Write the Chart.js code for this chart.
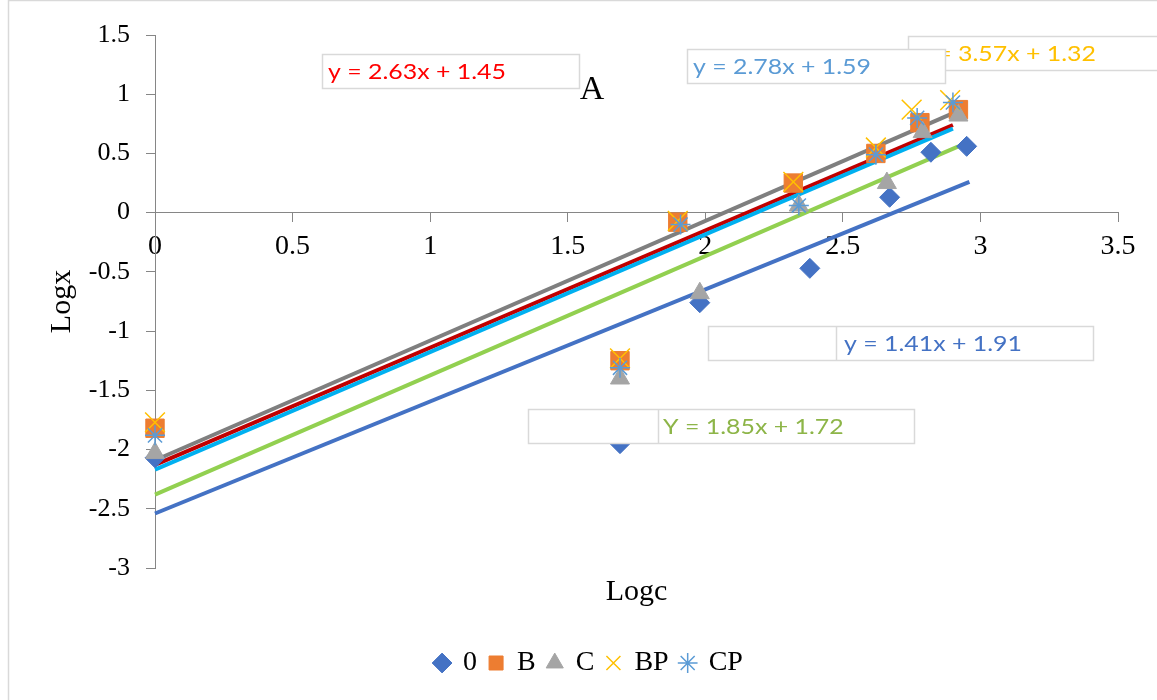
<!DOCTYPE html>
<html>
<head>
<meta charset="utf-8">
<script src="https://cdn.jsdelivr.net/npm/chart.js@4.4.0/dist/chart.umd.min.js"></script>
<style>
  html, body { margin: 0; padding: 0; background: #ffffff; }
  canvas { display: block; }
</style>
</head>
<body>
<canvas id="grafico" width="1157" height="700"></canvas>
<script>
// nomes das séries (legenda)
const series = ['0', 'B', 'C', 'BP', 'CP'];

// Logc (x) e Logx (y) de cada série
const logc0  = [0, 1.69, 1.98, 2.38, 2.67, 2.82, 2.95];
const logx0  = [-2.07, -1.95, -0.76, -0.47, 0.13, 0.51, 0.56];
const logcB  = [0, 1.69, 1.90, 2.32, 2.62, 2.78, 2.92];
const logxB  = [-1.82, -1.25, -0.08, 0.25, 0.50, 0.76, 0.87];
const logcC  = [0, 1.69, 1.98, 2.34, 2.66, 2.79, 2.92];
const logxC  = [-2.03, -1.40, -0.68, 0.06, 0.25, 0.68, 0.82];
const logcBP = [0, 1.69, 1.90, 2.32, 2.62, 2.75, 2.89];
const logxBP = [-1.77, -1.23, -0.07, 0.26, 0.55, 0.87, 0.95];
const logcCP = [0, 1.69, 1.91, 2.34, 2.62, 2.77, 2.90];
const logxCP = [-1.88, -1.31, -0.10, 0.06, 0.49, 0.80, 0.93];

// linhas de tendência: início em x = 0, fim em fimTendenciaX
const inicioTendencia = [-2.54, -2.38, -2.17, -2.13, -2.09];
const fimTendenciaX   = [2.96, 2.92, 2.90, 2.90, 2.92];
const fimTendencia    = [0.26, 0.56, 0.71, 0.74, 0.86];

// equações mostradas nas caixas
const equacoes = ['y = 3.57x + 1.32', 'y = 2.63x + 1.45', 'y = 2.78x + 1.59', 'y = 1.41x + 1.91', 'Y = 1.85x + 1.72'];

const cores = {
    azul: '#4472C4',
    laranja: '#ED7D31',
    cinza: '#A5A5A5',
    amarelo: '#FFC000',
    azulClaro: '#5B9BD5',
    cinzaEscuro: '#7F7F7F',
    vermelhoEscuro: '#C00000',
    ciano: '#00B0F0',
    verde: '#92D050',
    eixo: '#868686'
};

const fonteSerif = "'Liberation Serif', 'Times New Roman', serif";
Chart.defaults.font.family = fonteSerif;
Chart.defaults.color = '#000000';

const pontos = (xs, ys) => xs.map((x, i) => ({ x: x, y: ys[i] }));
const rotulo = valor => String(Math.round(valor * 10) / 10);

const estilosMarcadores = [
    { pointStyle: 'rectRot', pointRadius: 10, backgroundColor: cores.azul, borderColor: cores.azul, borderWidth: 1 },
    { pointStyle: 'rect', pointRadius: 13, backgroundColor: cores.laranja, borderColor: cores.laranja, borderWidth: 1 },
    { pointStyle: 'triangle', pointRadius: 11, backgroundColor: cores.cinza, borderColor: cores.cinza, borderWidth: 1 },
    { pointStyle: 'crossRot', pointRadius: 14, backgroundColor: cores.amarelo, borderColor: cores.amarelo, borderWidth: 1.5 },
    { pointStyle: 'star', pointRadius: 10, backgroundColor: cores.azulClaro, borderColor: cores.azulClaro, borderWidth: 1.5 }
];
const dadosSeries = [pontos(logc0, logx0), pontos(logcB, logxB), pontos(logcC, logxC), pontos(logcBP, logxBP), pontos(logcCP, logxCP)];

const coresTendencia = [cores.azul, cores.verde, cores.ciano, cores.vermelhoEscuro, cores.cinzaEscuro];

const datasets = [];
series.forEach((nome, i) => {
    datasets.push({
        label: nome,
        data: dadosSeries[i],
        ...estilosMarcadores[i],
        pointHoverRadius: estilosMarcadores[i].pointRadius,
        showLine: false,
        clip: false,
        order: 5 - i
    });
});
coresTendencia.forEach((cor, i) => {
    datasets.push({
        label: 'tendencia' + i,
        data: [{ x: 0, y: inicioTendencia[i] }, { x: fimTendenciaX[i], y: fimTendencia[i] }],
        showLine: true,
        borderColor: cor,
        borderWidth: 4,
        pointRadius: 0,
        clip: false,
        order: 10
    });
});

// caixas das equações, títulos dos eixos e moldura
const caixas = [
    { x: 908, y: 36, w: 270, h: 34, tx: 918, cor: cores.amarelo },
    { x: 322, y: 54, w: 257, h: 34, tx: 328, cor: '#FF0000' },
    { x: 687, y: 49, w: 258, h: 34, tx: 693, cor: cores.azulClaro },
    { x: 708, y: 326, w: 385, h: 34, tx: 844, div: 836, cor: cores.azul },
    { x: 528, y: 409, w: 386, h: 34, tx: 663, div: 658, cor: '#8DB548' }
];

const anotacoes = {
    id: 'anotacoes',
    afterDraw(chart) {
        const ctx = chart.ctx;
        const area = chart.chartArea;
        ctx.save();
        ctx.strokeStyle = '#D9D9D9';
        ctx.lineWidth = 1.5;
        ctx.strokeRect(8.5, 0.5, 1170, 720);

        ctx.font = '22px Lato';
        const escala = 178 / ctx.measureText(equacoes[1]).width;
        caixas.forEach((c, i) => {
            ctx.fillStyle = '#ffffff';
            ctx.fillRect(c.x, c.y, c.w, c.h);
            ctx.strokeStyle = '#D9D9D9';
            ctx.lineWidth = 1.5;
            ctx.strokeRect(c.x + 0.5, c.y + 0.5, c.w, c.h);
            if (c.div) {
                ctx.beginPath();
                ctx.moveTo(c.div + 0.5, c.y);
                ctx.lineTo(c.div + 0.5, c.y + c.h);
                ctx.stroke();
            }
            ctx.save();
            ctx.translate(c.tx, c.y + c.h / 2 + 1);
            ctx.scale(escala, 1);
            ctx.fillStyle = c.cor;
            ctx.textBaseline = 'middle';
            ctx.textAlign = 'left';
            ctx.fillText(equacoes[i], 0, 0);
            ctx.restore();
        });

        ctx.fillStyle = '#000000';
        ctx.textAlign = 'center';
        ctx.textBaseline = 'middle';
        ctx.font = '34px ' + fonteSerif;
        ctx.fillText('A', 592, 90);
        ctx.font = '30px ' + fonteSerif;
        ctx.fillText('Logc', (area.left + area.right) / 2, 592);
        ctx.save();
        ctx.translate(62, (area.top + area.bottom) / 2);
        ctx.rotate(-Math.PI / 2);
        ctx.fillText('Logx', 0, 0);
        ctx.restore();
        ctx.restore();
    }
};

new Chart(document.getElementById('grafico'), {
    type: 'scatter',
    data: { datasets: datasets },
    options: {
        responsive: false,
        animation: false,
        events: [],
        layout: { padding: { left: 60, right: 39, top: 35, bottom: 13 } },
        plugins: {
            legend: {
                position: 'bottom',
                labels: {
                    usePointStyle: true,
                    boxWidth: 14,
                    boxHeight: 14,
                    padding: 12,
                    font: { size: 28 },
                    color: '#000000',
                    filter: item => item.datasetIndex < series.length,
                    sort: (a, b) => a.datasetIndex - b.datasetIndex
                }
            },
            tooltip: { enabled: false }
        },
        scales: {
            x: {
                type: 'linear',
                position: { y: 0 },
                min: 0,
                max: 3.5,
                ticks: { stepSize: 0.5, padding: 8, font: { size: 28 }, color: '#000000', maxRotation: 0, callback: rotulo },
                grid: { drawOnChartArea: false, tickLength: 9, color: cores.eixo },
                border: { color: cores.eixo, width: 1 }
            },
            y: {
                type: 'linear',
                position: 'left',
                min: -3,
                max: 1.5,
                ticks: { stepSize: 0.5, padding: 16, font: { size: 26 }, color: '#000000', callback: rotulo },
                grid: { drawOnChartArea: false, tickLength: 9, color: cores.eixo },
                border: { color: cores.eixo, width: 1 },
                afterFit: escala => { escala.width = 95; }
            },
            espaco: {
                type: 'linear',
                axis: 'x',
                position: 'bottom',
                display: true,
                grid: { display: false },
                border: { display: false },
                ticks: { display: false },
                afterFit: escala => { escala.height = 69; }
            }
        }
    },
    plugins: [anotacoes]
});
</script>
</body>
</html>
